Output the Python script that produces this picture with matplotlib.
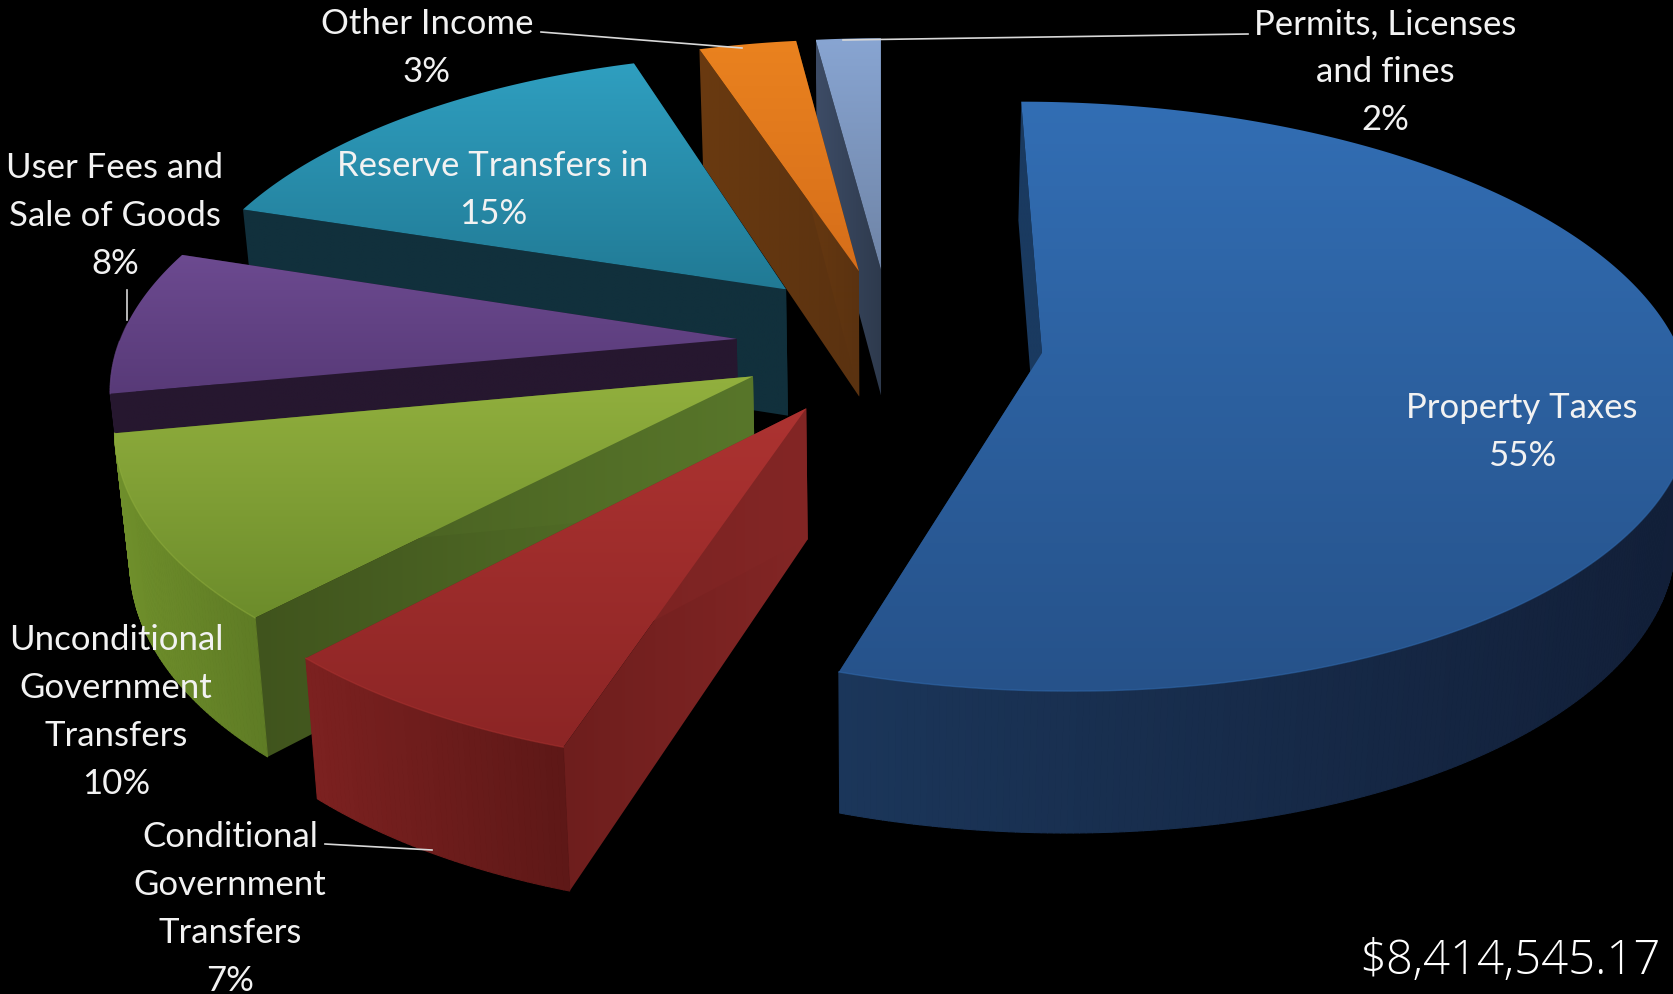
import numpy as np
import matplotlib
matplotlib.use("Agg")
import matplotlib.pyplot as plt
from matplotlib.collections import PolyCollection
from matplotlib.colors import LinearSegmentedColormap
from matplotlib.patches import Polygon

categories = ["Property Taxes", "Conditional\nGovernment\nTransfers",
              "Unconditional\nGovernment\nTransfers", "User Fees and\nSale of Goods",
              "Reserve Transfers in", "Other Income", "Permits, Licenses\nand fines"]
shares = [55, 7, 10, 8, 15, 3, 2]
total_label = "$8,414,545.17"

# how far each slice is pulled out of the pie, the turn of that pull
# away from the slice's middle, and the slice width on the disc
explode = [134, 175, 172, 175, 180, 179, 177]
pull_turn = [0, 5, 3.7, 0, 0, -4.3, -5.8]
radius_x = [640, 622, 622, 622, 622, 622, 622]

# top start, top end, radial face left, radial face right, outer wall left, outer wall right
palette = [
    ("#326eb4", "#26528a", "#1a3a60", "#1a3a60", "#1b365a", "#121f38"),
    ("#ad3331", "#8c2525", "#6e1e1d", "#832625", "#7c2120", "#5e1817"),
    ("#92b03e", "#6c8c2b", "#40541d", "#58762a", "#6f8f2b", "#5f7c25"),
    ("#6c4a90", "#583a78", "#26172f", "#26172f", "#26172f", "#26172f"),
    ("#2f9fc0", "#217a95", "#11303c", "#11303c", "#11303c", "#11303c"),
    ("#ea821f", "#d66e1a", "#6a3a10", "#5a3210", "#6a3a10", "#6a3a10"),
    ("#88a5d2", "#6f84a6", "#3d4c66", "#2e3a4d", "#3d4c66", "#3d4c66"),
]

# label line anchors, x centre and y of the first line
label_pos = [(1522, 408), (230, 837), (116, 640), (115, 168), (493, 166), (427, 24), (1385, 24)]
line_pitch = 48

leaders = [((541, 32), (742, 48)), ((1248, 34), (843, 40)),
           ((127, 290), (127, 320)), ((325, 844), (432, 850))]

# perspective of the disc plane
VX, VY, H, D = 880.0, -1603.0, 1960.0, 4400.0
CENTER_X, CENTER_Y = 30.0, 30.0
RADIUS_Y = 650.0
DEPTH = 129.0
SHRINK = 0.98


def project(x, y, lower=False):
    s = D / (D + y)
    if lower:
        return VX + x * s * SHRINK, VY + H * s + DEPTH * s ** 0.6
    return VX + x * s, VY + H * s


def draw_gradient(ax, pts, c1, c2, z, across=False):
    patch = Polygon(pts, closed=True, facecolor="none", edgecolor="none", zorder=z)
    ax.add_patch(patch)
    cmap = LinearSegmentedColormap.from_list("shade", [c1, c2])
    x0, x1 = pts[:, 0].min(), pts[:, 0].max()
    y0, y1 = pts[:, 1].min(), pts[:, 1].max()
    ramp = np.linspace(0, 1, 256)
    ramp = ramp[None, :] if across else ramp[:, None]
    img = ax.imshow(ramp, cmap=cmap, aspect="auto",
                    extent=(x0, x1, y1, y0), zorder=z, interpolation="bilinear")
    img.set_clip_path(patch)


def draw_slice(ax, start, sweep, pull, turn, rad_x, colors, z):
    top1, top2, side1, side2, wall1, wall2 = colors
    mid = np.radians(start + sweep / 2 + turn)
    ex, ey = CENTER_X + pull * np.sin(mid), CENTER_Y + pull * np.cos(mid)
    t = np.radians(np.linspace(start, start + sweep, max(int(sweep * 2), 12)))
    arc_x = ex + rad_x * np.sin(t)
    arc_y = ey + RADIUS_Y * np.cos(t)

    ux, uy = project(arc_x, arc_y)
    lx, ly = project(arc_x, arc_y, lower=True)
    ax0, ay0 = project(ex, ey)
    bx0, by0 = project(ex, ey, lower=True)

    # radial faces
    for ends in (0, -1):
        quad = np.array([(ax0, ay0), (ux[ends], uy[ends]), (lx[ends], ly[ends]), (bx0, by0)])
        draw_gradient(ax, quad, side1, side2, z, across=True)

    # outer wall as thin quads, shaded left to right; the far side of the disc stays hidden
    wall_cmap = LinearSegmentedColormap.from_list("wall", [wall1, wall2])
    order = (ux - ux.min()) / max(ux.max() - ux.min(), 1)
    quads, shades = [], []
    for i in range(len(t) - 1):
        if np.cos(t[i]) > 0.05:
            continue
        quads.append([(ux[i], uy[i]), (ux[i + 1], uy[i + 1]), (lx[i + 1], ly[i + 1]), (lx[i], ly[i])])
        shades.append(wall_cmap(order[i]))
    if quads:
        ax.add_collection(PolyCollection(quads, facecolors=shades, edgecolors=shades,
                                         linewidths=0.8, zorder=z + 0.2))

    # top face
    pts = np.column_stack([np.r_[ax0, ux], np.r_[ay0, uy]])
    draw_gradient(ax, pts, top1, top2, z + 0.5)

    # thin highlight along the rim of the front slices
    front = uy > ay0
    if front.any():
        ax.plot(ux[front], uy[front], color=top1, lw=1.0, alpha=0.5, zorder=z + 0.6)


fig = plt.figure(figsize=(16.73, 9.94), dpi=100, facecolor="black")
ax = fig.add_axes([0, 0, 1, 1])
ax.set_facecolor("black")

angles = np.cumsum([0] + [s * 3.6 for s in shares])
for i in range(len(shares) - 1, -1, -1):
    draw_slice(ax, angles[i], shares[i] * 3.6, explode[i], pull_turn[i], radius_x[i], palette[i],
               10 + (len(shares) - i) * 2)

for (p, q) in leaders:
    ax.plot([p[0], q[0]], [p[1], q[1]], color="#d8d8d8", lw=1.2, zorder=40)

for name, share, (x, y) in zip(categories, shares, label_pos):
    lines = name.split("\n") + [f"{share}%"]
    for j, line in enumerate(lines):
        ax.text(x, y + j * line_pitch, line, color="#f2f2f2", fontsize=25, family="Lato",
                ha="center", va="center", zorder=50)

ax.text(1661, 962, total_label, color="white", fontsize=34, family="Open Sans",
        fontweight="light", ha="right", va="center", zorder=50)

ax.set_xlim(0, 1673)
ax.set_ylim(994, 0)
ax.axis("off")
fig.savefig("out.png", dpi=100, facecolor="black")
